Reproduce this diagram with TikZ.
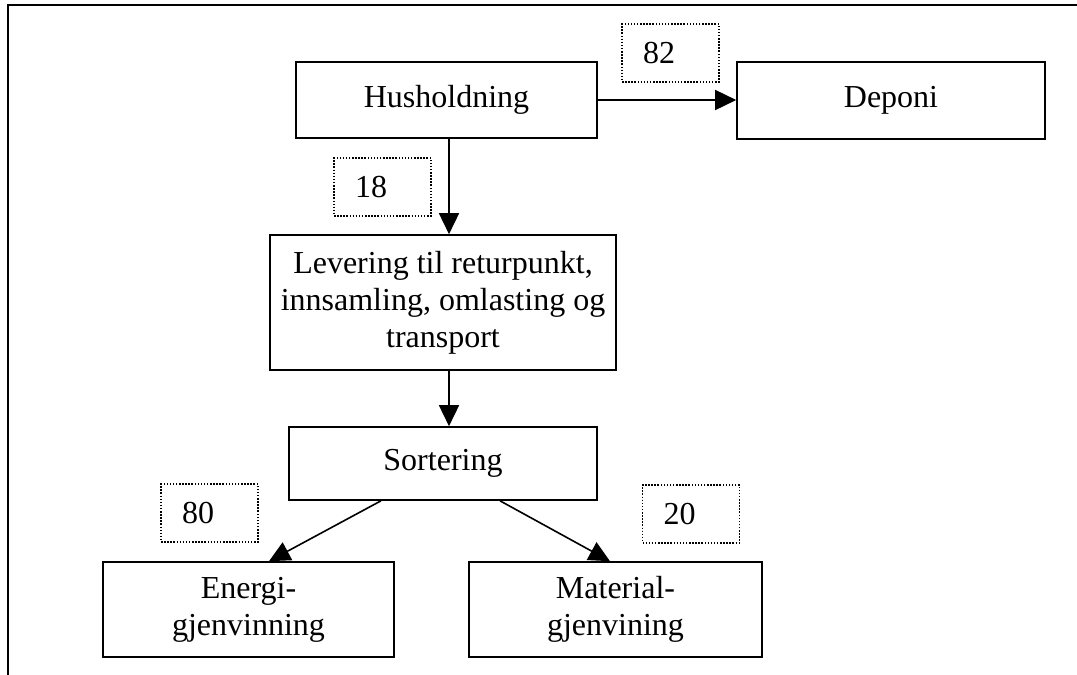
\documentclass[tikz,border=0pt]{standalone}
\usepackage{fontspec}
\setmainfont{Liberation Serif}
\usetikzlibrary{arrows.meta}
\begin{document}
\begin{tikzpicture}[x=1pt,y=-1pt,
  box/.style={draw, line width=1.6pt, inner sep=0pt, align=center,
              font=\fontsize{32}{37}\selectfont},
  num/.style={draw, dash pattern=on 1.5pt off 1.6pt, line width=1.5pt,
              inner ysep=0pt, inner xsep=21pt, text width=55pt,
              minimum height=58pt, align=left,
              font=\fontsize{32}{37}\selectfont},
  flow/.style={line width=1.6pt, -{Triangle[length=21pt,width=20pt]}},
  frame/.style={line width=1.8pt}]
\useasboundingbox (0,0) rectangle (1077,675);
% outer frame (top and left only)
\coordinate (fbl) at (8,675);
\coordinate (ftl) at (8,5);
\coordinate (ftr) at (1077,5);
\draw[frame] (fbl) -- (ftl) -- (ftr);
% boxes
\node[box, minimum width=301pt, minimum height=76pt] (hus) at (446.5,100) {Husholdning};
\node[box, minimum width=308pt, minimum height=77pt] (dep) at (891,100.5) {Deponi};
\node[box, minimum width=346pt, minimum height=135pt] (lev) at (443,302.5)
  {Levering til returpunkt,\\innsamling, omlasting og\\transport};
\node[box, minimum width=308pt, minimum height=73pt] (sort) at (443,463.5) {Sortering};
\node[box, minimum width=291pt, minimum height=95pt] (ene) at (248.5,609.5) {Energi-\\gjenvinning};
\node[box, minimum width=293pt, minimum height=95pt] (mat) at (615.5,609.5) {Material-\\gjenvining};
% dotted number boxes
\node[num] (n82) at (670.5,53) {82};
\node[num] (n18) at (382.5,187) {18};
\node[num] (n80) at (209.5,513) {80};
\node[num] (n20) at (691,514) {20};
% connectors
\draw[flow] (hus.east) -- (hus.east -| dep.west);
\draw[flow] ([xshift=2.5pt]hus.south) -- ([xshift=2.5pt]hus.south |- lev.north);
\draw[flow] ([xshift=6pt]lev.south) -- ([xshift=6pt]sort.north);
\draw[flow] ([xshift=-62pt]sort.south) -- ([xshift=20.5pt]ene.north);
\draw[flow] ([xshift=57pt]sort.south) -- ([xshift=-5.5pt]mat.north);
\end{tikzpicture}
\end{document}
